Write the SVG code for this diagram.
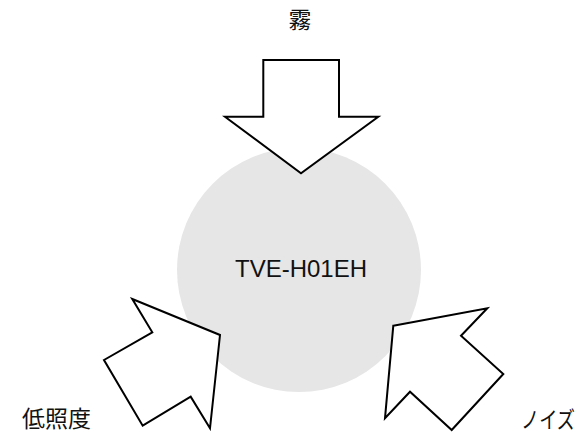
<svg xmlns="http://www.w3.org/2000/svg" width="588" height="435" viewBox="0 0 588 435">
  <style>
    .arrow { fill: #ffffff; stroke: #000000; stroke-width: 2; stroke-linejoin: miter; }
    .jp { font-family: "Noto Sans CJK JP", sans-serif; font-size: 23px; fill: #111111; }
    .lbl { font-family: "Liberation Sans", "Open Sans", sans-serif; font-size: 24px; fill: #111111; }
  </style>
  <rect width="588" height="435" fill="#ffffff"/>
  <g id="node-tve">
    <circle cx="299" cy="270" r="122" fill="#e6e6e6"/>
    <text class="lbl" x="301" y="277" text-anchor="middle">TVE-H01EH</text>
  </g>
  <g id="connectors">
    <polygon class="arrow" points="263.3,60 339,60 339,116.7 378.3,116.7 301,173.3 225,116.7 263.3,116.7"/>
    <polygon class="arrow" points="132.3,299 220,335 210,428.3 190.7,396.7 142.7,425.7 104,360 152.3,332.3"/>
    <polygon class="arrow" points="393.3,325.7 487.3,308.3 461,335.7 503.3,374 451.7,430 410,391.7 385,418.3"/>
  </g>
  <g id="node-fog">
    <text class="jp" x="300" y="28" text-anchor="middle">霧</text>
  </g>
  <g id="node-lowlight">
    <text class="jp" x="22" y="427">低照度</text>
  </g>
  <g id="node-noise">
    <text class="jp" x="521" y="428" font-size="21" textLength="54" lengthAdjust="spacingAndGlyphs">ノイズ</text>
  </g>
</svg>
